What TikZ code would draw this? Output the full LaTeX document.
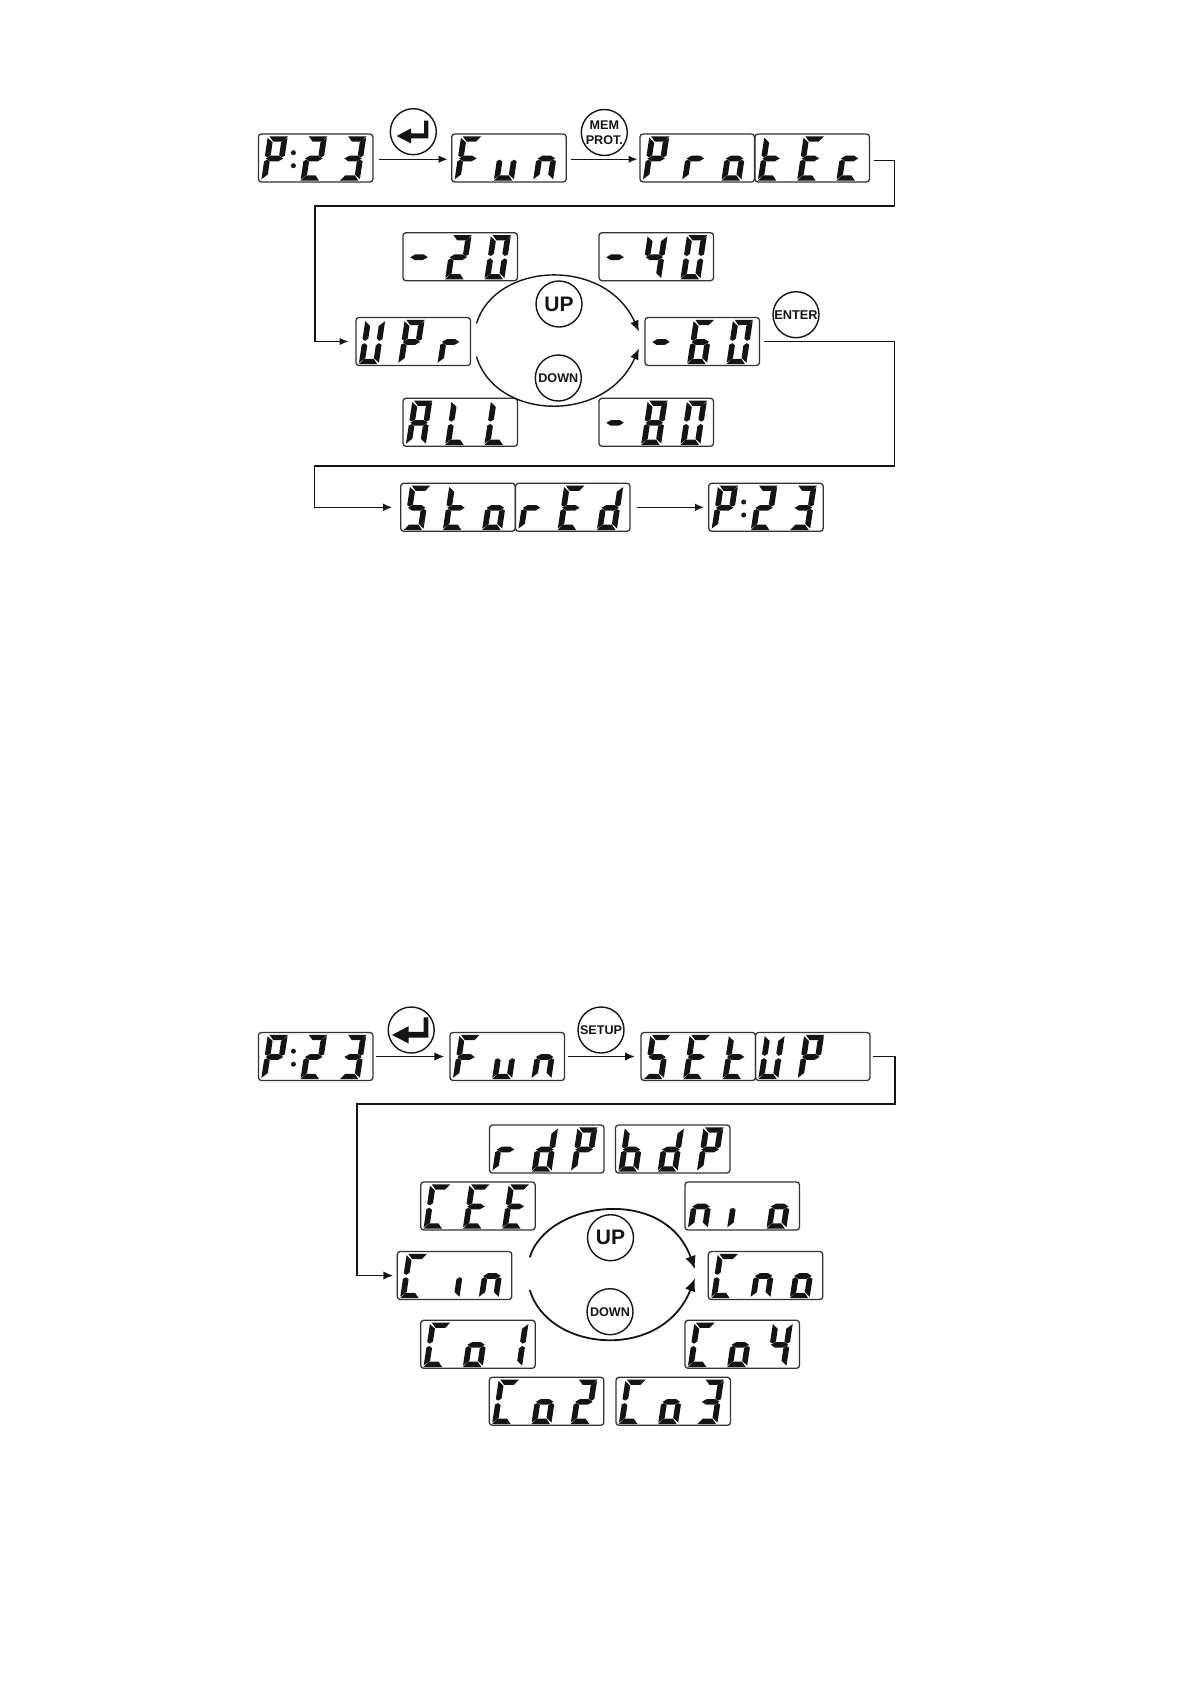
\documentclass[tikz,border=0pt]{standalone}
\usepackage{fontspec}
\setmainfont{Liberation Sans}
\usetikzlibrary{arrows.meta,calc}
\definecolor{lcdline}{gray}{0.2}
\definecolor{inkk}{gray}{0.08}
\tikzset{
  lcdbox/.style={draw=lcdline,line width=1.3pt,rounded corners=3pt,minimum width=114.5pt,minimum height=48pt,outer sep=0pt,inner sep=0pt,anchor=north west},
  btn/.style={draw=inkk,circle,line width=1.4pt,minimum size=46pt,inner sep=0pt,outer sep=0pt,align=center,font=\bfseries\fontsize{12.6}{14.5}\selectfont,text=inkk},
  conn/.style={draw=inkk,line width=1.4pt,-{Latex[length=9pt,width=7.5pt]}},
  connb/.style={draw=inkk,line width=1.7pt,-{Latex[length=10pt,width=8.5pt]}},
  arcb/.style={draw=inkk,line width=1.4pt,-{Latex[length=11pt,width=9pt]}},
  arcc/.style={draw=inkk,line width=1.8pt,-{Latex[length=13pt,width=11pt]}},
}
\def\sega{\fill[inkk] (1.4,44.2)--(20,44.2)--(15.6,38.9)--(6,38.9)--cycle;}
\def\segd{\fill[inkk] (-.2,-.2)--(18.4,-.2)--(14,5.1)--(4.4,5.1)--cycle;}
\def\segf{\fill[inkk] (-.2,42.8)--(5.5,38)--(5.5,25.4)--(2.7,23.2)--(-.2,24.7)--cycle;}
\def\sege{\fill[inkk] (-.2,1.2)--(5.5,6)--(5.5,18.6)--(2.7,20.8)--(-.2,19.3)--cycle;}
\def\segb{\fill[inkk] (19.7,42.8)--(14,38)--(14,25.4)--(16.8,23.2)--(19.7,24.7)--cycle;}
\def\segc{\fill[inkk] (19.7,1.2)--(14,6)--(14,18.6)--(16.8,20.8)--(19.7,19.3)--cycle;}
\def\segg{\fill[inkk] (1,22)--(5.5,24.8)--(14,24.8)--(18.5,22)--(14,19.2)--(5.5,19.2)--cycle;}
\newcommand\defch[2]{\expandafter\def\csname ch#1\endcsname{#2}}
\defch{P}{a,b,f,g,e}\defch{2}{a,b,g,e,d}\defch{3}{a,b,g,c,d}\defch{F}{a,f,g,e}
\defch{u}{e,d,c}\defch{n}{e,c,g}\defch{r}{e,g}\defch{o}{c,d,e,g}\defch{t}{f,e,g,d}
\defch{E}{a,f,g,e,d}\defch{c}{g,e,d}\defch{S}{a,f,g,c,d}\defch{d}{b,c,d,e,g}
\defch{U}{b,c,d,e,f}\defch{-}{g}\defch{0}{a,b,c,d,e,f}\defch{4}{f,g,b,c}
\defch{6}{a,f,g,e,d,c}\defch{8}{a,b,c,d,e,f,g}\defch{A}{a,b,c,e,f,g}\defch{L}{f,e,d}
\defch{b}{f,e,g,d,c}\defch{C}{a,f,e,d}\defch{I}{c}\defch{i}{e}\defch{1}{b,c}\defch{_}{}
\newcommand\lcdglyph[4]{%
  \begin{scope}[shift={({#1+3+39.3*#3},{#2+46.5})},y=1pt,xslant=.15]
    \expandafter\let\expandafter\curlist\csname ch#4\endcsname
    \foreach \s in \curlist {\csname seg\s\endcsname}
  \end{scope}}
\newcommand\lcd[6]{%
  \node[lcdbox] (#1) at (#2,#3) {};
  \lcdglyph{#2}{#3}{0}{#4}\lcdglyph{#2}{#3}{1}{#5}\lcdglyph{#2}{#3}{2}{#6}}
\newcommand\lcdcolon[2]{%
  \fill[inkk] ({#1+35},{#2+18.7}) circle (2.5);
  \fill[inkk] ({#1+35},{#2+31.7}) circle (2.5);}
\newcommand\entericon[2]{%
  \begin{scope}[shift={(#1.center)},scale=#2]
    \fill[inkk] (-16.7,4.3)--(-2.3,-3.3)--(-2.3,1.7)--(10.7,1.7)--(10.7,-11)--(15,-11)--(15,6.7)--(-2.3,6.7)--(-2.3,11.7)--cycle;
  \end{scope}}
\begin{document}
\begin{tikzpicture}[x=1pt,y=-1pt]
\useasboundingbox (0,0) rectangle (1190,1684);
% ---------- upper diagram
\lcd{pa}{258.4}{134}{P}{2}{3}\lcdcolon{258.4}{134}
\lcd{funa}{451.7}{134}{F}{u}{n}
\lcd{pro}{640}{134}{P}{r}{o}
\lcd{tec}{755}{134}{t}{E}{c}
\lcd{mtw}{403}{232.7}{-}{2}{0}
\lcd{mfo}{599}{232.7}{-}{4}{0}
\lcd{upr}{356}{317.5}{U}{P}{r}
\lcd{msi}{645}{317.5}{-}{6}{0}
\lcd{all}{403}{398.3}{A}{L}{L}
\lcd{mei}{599}{398.3}{-}{8}{0}
\lcd{sto}{400.7}{483.3}{S}{t}{o}
\lcd{red}{515.5}{483.3}{r}{E}{d}
\lcd{pb}{708.7}{483.3}{P}{2}{3}\lcdcolon{708.7}{483.3}
\node[btn] (enta) at (413.3,131.7) {};
\entericon{enta}{1}
\node[btn] (mem) at (604.3,132.5) {MEM\\PROT.};
\node[btn,font=\bfseries\fontsize{21}{22}\selectfont] (upa) at (559,304) {UP};
\node[btn,font=\bfseries\fontsize{12.6}{14}\selectfont] (dna) at (558.3,378) {DOWN};
\node[btn,font=\bfseries\fontsize{12.8}{14}\selectfont] (ent) at (796,314.7) {ENTER};
\draw[conn] ([shift={(6,1.2)}]pa.east) -- ([shift={(-4,1.2)}]funa.west);
\draw[conn] ([shift={(5,1.2)}]funa.east) -- ([shift={(-2.5,1.2)}]pro.west);
\coordinate (ta) at (894.3,206);
\coordinate (tb) at (315,206);
\draw[conn] ([shift={(4.3,2.7)}]tec.east) -| (ta) -- (tb) |- ([xshift=-7.5]upr.west);
\draw[arcb] ([shift={(6,-18)}]upr.east) .. controls (495,262) and (605,256) .. ([shift={(-6,-10)}]msi.west);
\draw[arcb] ([shift={(6,15)}]upr.east) .. controls (495,420) and (605,425) .. ([shift={(-6,7)}]msi.west);
\coordinate (tc) at (894.6,466);
\coordinate (td) at (314.5,466);
\draw[conn] ([xshift=4]msi.east) -| (tc) -- (td) |- ([xshift=-8.5]sto.west);
\draw[conn] ([xshift=7]red.east) -- ([xshift=-4.7]pb.west);
% ---------- lower diagram
\lcd{pc}{258.4}{1032.5}{P}{2}{3}\lcdcolon{258.4}{1032.5}
\lcd{funb}{450}{1032.5}{F}{u}{n}
\lcd{set}{641}{1032.5}{S}{E}{t}
\lcd{upp}{755.5}{1032.5}{U}{P}{_}
\lcd{rdp}{489.5}{1125}{r}{d}{P}
\lcd{bdp}{615.5}{1125}{b}{d}{P}
\lcd{cee}{420.7}{1182}{C}{E}{E}
\lcd{nio}{685}{1182}{n}{i}{o}
\lcd{cin}{397.3}{1251.5}{C}{I}{n}
\lcd{cno}{708.3}{1251.5}{C}{n}{o}
\lcd{coa}{420.7}{1320.3}{C}{o}{1}
\lcd{cod}{685}{1320.3}{C}{o}{4}
\lcd{cob}{489.3}{1377.3}{C}{o}{2}
\lcd{coc}{616}{1377.3}{C}{o}{3}
\node[btn] (entb) at (411.2,1030) {};
\entericon{entb}{1.15}
\node[btn,font=\bfseries\fontsize{12.6}{14}\selectfont] (stp) at (601,1030) {SETUP};
\node[btn,font=\bfseries\fontsize{21}{22}\selectfont] (upb) at (610.5,1237.7) {UP};
\node[btn,font=\bfseries\fontsize{12.6}{14}\selectfont] (dnb) at (610,1311.7) {DOWN};
\draw[connb] ([xshift=3.4]pc.east) -- ([xshift=-5.6]funb.west);
\draw[connb] ([xshift=3.3]funb.east) -- ([xshift=-6]set.west);
\coordinate (te) at (895.2,1104);
\coordinate (tf) at (356.9,1104);
\draw[connb] ([xshift=3]upp.east) -| (te) -- (tf) |- ([xshift=-4]cin.west);
\draw[arcc] ([shift={(18,-18.2)}]cin.east) .. controls (546,1202) and (664,1184) .. ([shift={(-13.3,-6.5)}]cno.west);
\draw[arcc] ([shift={(18,14.5)}]cin.east) .. controls (548,1352) and (662,1362) .. ([shift={(-13.3,2.8)}]cno.west);
\end{tikzpicture}
\end{document}
